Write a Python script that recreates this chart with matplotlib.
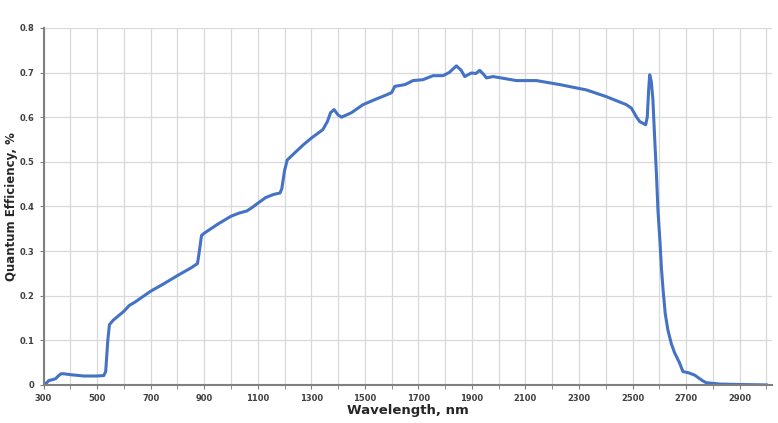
import matplotlib
matplotlib.use("Agg")
import matplotlib.pyplot as plt
import numpy as np

# wavelength (nm) and quantum efficiency
wavelength = [300, 310, 320, 335, 345, 355, 365, 375, 400, 450, 500, 525, 532, 540, 546,
              560, 580, 600, 620, 640, 700, 750, 800, 850, 865, 875, 882, 890, 900,
              950, 1000, 1030, 1060, 1080, 1100, 1130, 1160, 1183, 1190, 1200, 1210,
              1231, 1270, 1300, 1343, 1360, 1372, 1385, 1400, 1413, 1450, 1493, 1540,
              1581, 1600, 1612, 1650, 1680, 1717, 1755, 1792, 1815, 1842, 1860, 1873,
              1898, 1915, 1929, 1945, 1954, 1979, 2066, 2141, 2228, 2328, 2402, 2477,
              2496, 2515, 2527, 2549, 2555, 2560, 2564, 2570, 2576, 2582, 2589, 2595,
              2602, 2608, 2614, 2622, 2632, 2645, 2657, 2675, 2688, 2710, 2732, 2760,
              2775, 2825, 2900, 3000]
qe = [0.0, 0.004, 0.01, 0.012, 0.014, 0.02, 0.025, 0.025, 0.023, 0.02, 0.02, 0.021, 0.03,
      0.1, 0.135, 0.145, 0.155, 0.165, 0.178, 0.185, 0.21, 0.227, 0.245, 0.262, 0.268,
      0.272, 0.30, 0.335, 0.34, 0.36, 0.378, 0.385, 0.39, 0.398, 0.407, 0.42, 0.427,
      0.43, 0.44, 0.48, 0.504, 0.516, 0.538, 0.553, 0.572, 0.59, 0.61, 0.617, 0.605,
      0.60, 0.61, 0.628, 0.64, 0.65, 0.655, 0.669, 0.673, 0.682, 0.684, 0.693, 0.693,
      0.70, 0.715, 0.705, 0.691, 0.699, 0.698, 0.705, 0.695, 0.688, 0.691, 0.682, 0.682,
      0.673, 0.661, 0.646, 0.628, 0.62, 0.60, 0.59, 0.583, 0.60, 0.66, 0.695, 0.68,
      0.639, 0.56, 0.475, 0.39, 0.325, 0.26, 0.213, 0.16, 0.123, 0.092, 0.072, 0.05,
      0.03, 0.027, 0.022, 0.01, 0.005, 0.002, 0.001, 0.0]

x_ticks = list(range(300, 3000, 200))
y_ticks = [0, 0.1, 0.2, 0.3, 0.4, 0.5, 0.6, 0.7, 0.8]

fig = plt.figure(figsize=(7.78, 4.23), dpi=100)
ax = fig.add_axes([0.056, 0.09, 0.936, 0.844])

ax.plot(wavelength, qe, color="#4472C4", linewidth=2.2, solid_joinstyle="round")

ax.set_xlim(300, 3020)
ax.set_ylim(0, 0.8)
ax.set_xticks(x_ticks)
ax.set_xticks(range(300, 3100, 100), minor=True)
ax.set_yticks(y_ticks)
ax.set_yticklabels(["0", "0.1", "0.2", "0.3", "0.4", "0.5", "0.6", "0.7", "0.8"])
ax.grid(True, which="both", color="#d9d9d9", linewidth=0.9)
ax.set_axisbelow(True)

for side in ["top", "right"]:
    ax.spines[side].set_visible(False)
for side in ["left", "bottom"]:
    ax.spines[side].set_color("#808080")
    ax.spines[side].set_linewidth(1.5)

ax.tick_params(which="both", length=3, color="#808080")
for lab in ax.get_xticklabels() + ax.get_yticklabels():
    lab.set_fontsize(6)
    lab.set_fontweight("bold")
    lab.set_color("#404040")

ax.set_xlabel("Wavelength, nm", fontsize=9.5, fontweight="bold", color="#262626", labelpad=1)
ax.set_ylabel("Quantum Efficiency, %", fontsize=8.5, fontweight="bold", color="#262626", labelpad=1)

fig.savefig("out.png", dpi=100, facecolor="white")
